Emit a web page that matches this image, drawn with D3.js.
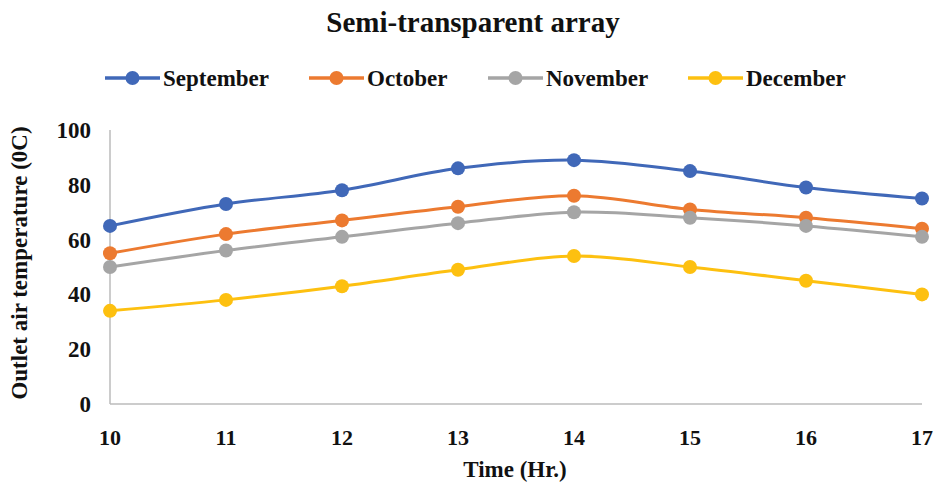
<!DOCTYPE html>
<html>
<head>
<meta charset="utf-8">
<script src="https://cdn.jsdelivr.net/npm/d3@7"></script>
<style>
  body { margin: 0; background: #fff; }
  text { font-family: "Liberation Serif", "Times New Roman", serif; font-weight: bold; fill: #111; }
</style>
</head>
<body>
<svg id="chart" width="935" height="485"></svg>
<script>
// ── Data ──
const hours = [10, 11, 12, 13, 14, 15, 16, 17];
const september = [65, 73, 78, 86, 89, 85, 79, 75];
const october = [55, 62, 67, 72, 76, 71, 68, 64];
const november = [50, 56, 61, 66, 70, 68, 65, 61];
const december = [34, 38, 43, 49, 54, 50, 45, 40];
const yTicks = [0, 20, 40, 60, 80, 100];

const series = [
  { name: "September", values: september, color: "#4068B8" },
  { name: "October", values: october, color: "#EC7A30" },
  { name: "November", values: november, color: "#A5A5A5" },
  { name: "December", values: december, color: "#FDC010" }
];

// ── Setup ──
const svg = d3.select("#chart");
const margin = { left: 110, right: 13, top: 130, bottom: 81 };
const width = 935, height = 485;

const x = d3.scaleLinear().domain([10, 17]).range([margin.left, width - margin.right]);
const y = d3.scaleLinear().domain([0, 100]).range([height - margin.bottom, margin.top]);

// ── Title ──
svg.append("text")
  .attr("x", 473).attr("y", 32)
  .attr("text-anchor", "middle")
  .style("font-size", "29px")
  .text("Semi-transparent array");

// ── Legend ──
const legendX = [105, 309, 488, 688];
const legend = svg.append("g").selectAll("g")
  .data(series)
  .join("g")
  .attr("transform", (d, i) => `translate(${legendX[i]},78)`);

legend.append("line")
  .attr("x1", 0).attr("x2", 55)
  .attr("stroke", d => d.color).attr("stroke-width", 3.5);
legend.append("circle")
  .attr("cx", 27.5).attr("r", 7)
  .attr("fill", d => d.color);
legend.append("text")
  .attr("x", 58).attr("y", 8)
  .style("font-size", "23px")
  .text(d => d.name);

// ── Axes ──
svg.append("line")
  .attr("x1", x(10)).attr("x2", x(10))
  .attr("y1", y(0)).attr("y2", y(100))
  .attr("stroke", "#bbb").attr("stroke-width", 1.5);
svg.append("line")
  .attr("x1", x(10)).attr("x2", x(17))
  .attr("y1", y(0)).attr("y2", y(0))
  .attr("stroke", "#bbb").attr("stroke-width", 1.5);

svg.append("g").selectAll("text")
  .data(yTicks)
  .join("text")
  .attr("x", 91).attr("y", d => y(d) + 8)
  .attr("text-anchor", "end")
  .style("font-size", "23px")
  .text(d => d);

svg.append("g").selectAll("text")
  .data(hours)
  .join("text")
  .attr("x", d => x(d)).attr("y", 445)
  .attr("text-anchor", "middle")
  .style("font-size", "22px")
  .text(d => d);

svg.append("text")
  .attr("x", 515).attr("y", 477)
  .attr("text-anchor", "middle")
  .style("font-size", "23px")
  .text("Time  (Hr.)");

svg.append("text")
  .attr("transform", "translate(27,263) rotate(-90)")
  .attr("text-anchor", "middle")
  .style("font-size", "23px")
  .text("Outlet air temperature (0C)");

// ── Lines ──
const line = d3.line()
  .x((d, i) => x(hours[i]))
  .y(d => y(d))
  .curve(d3.curveCatmullRom.alpha(0.5));

const groups = svg.append("g").selectAll("g")
  .data(series)
  .join("g");

groups.append("path")
  .attr("d", d => line(d.values))
  .attr("fill", "none")
  .attr("stroke", d => d.color)
  .attr("stroke-width", 3);

groups.selectAll("circle")
  .data(d => d.values.map((v, i) => ({ v, i, color: d.color })))
  .join("circle")
  .attr("cx", d => x(hours[d.i]))
  .attr("cy", d => y(d.v))
  .attr("r", 7)
  .attr("fill", d => d.color);
</script>
</body>
</html>
